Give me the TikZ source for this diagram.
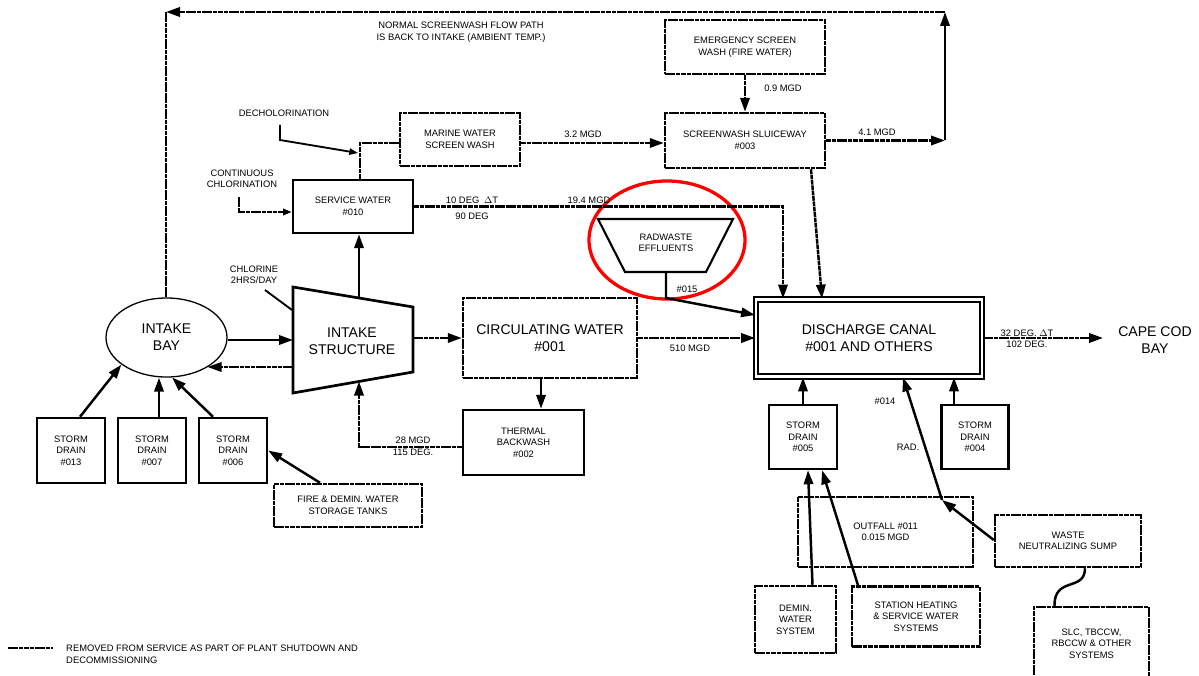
\documentclass[tikz,border=0pt]{standalone}
\usepackage{fontspec}
\setmainfont{Liberation Sans}
\usetikzlibrary{arrows.meta,calc,shapes.geometric}
\begin{document}
\begin{tikzpicture}[x=0.03cm,y=-0.03cm,
  sm/.style={font=\fontsize{8}{9.8}\selectfont, align=center, inner sep=0pt},
  lg/.style={font=\fontsize{12}{14.5}\selectfont, align=center, inner sep=0pt},
  ln/.style={line width=2.1pt},
  thin/.style={line width=1.6pt},
  rm/.style={line width=2.1pt, dash pattern=on 4pt off 0.6pt},
  arr/.style={-{Triangle[length=4.2mm,width=2.8mm]}},
  sarr/.style={-{Triangle[length=2.6mm,width=1.9mm]}},
  box/.style={draw, rectangle, line width=2.1pt, sm},
  rbox/.style={box, dash pattern=on 4pt off 0.6pt},
]
\useasboundingbox (0,0) rectangle (1199,676);
\clip (0,0) rectangle (1199,676);

% ---------- boxes ----------
\node[rbox, minimum width=4.8cm, minimum height=1.62cm] (emerg) at (745,47) {EMERGENCY SCREEN\\WASH (FIRE WATER)};
\node[rbox, minimum width=4.8cm, minimum height=1.65cm] (sluice) at (745,140.5) {SCREENWASH SLUICEWAY\\\#003};
\node[rbox, minimum width=3.6cm, minimum height=1.59cm] (marine) at (460,139.5) {MARINE WATER\\SCREEN WASH};
\node[box, minimum width=3.6cm, minimum height=1.59cm] (sw) at (353,206.5) {SERVICE WATER\\\#010};
\node[rbox, lg, minimum width=5.22cm, minimum height=2.4cm] (circ) at (550,338) {CIRCULATING WATER\\\#001};
\node[box, minimum width=3.63cm, minimum height=1.95cm] (thermal) at (523.5,442.5) {THERMAL\\BACKWASH\\\#002};
\node[box, minimum width=2.04cm, minimum height=1.95cm] (sd013) at (71,450.5) {STORM\\DRAIN\\\#013};
\node[box, minimum width=2.04cm, minimum height=1.95cm] (sd007) at (152,450.5) {STORM\\DRAIN\\\#007};
\node[box, minimum width=2.04cm, minimum height=1.95cm] (sd006) at (233,450.5) {STORM\\DRAIN\\\#006};
\node[rbox, minimum width=4.44cm, minimum height=1.29cm] (fire) at (348,505.5) {FIRE \& DEMIN. WATER\\STORAGE TANKS};
\node[draw, double, double distance=2.2pt, line width=1.5pt, lg, minimum width=6.78cm, minimum height=2.31cm] (dc) at (869,338) {DISCHARGE CANAL\\\#001 AND OTHERS};
\node[box, minimum width=2.04cm, minimum height=1.92cm] (sd005) at (803,437) {STORM\\DRAIN\\\#005};
\node[box, minimum width=2.01cm, minimum height=1.92cm] (sd004) at (975,437) {STORM\\DRAIN\\\#004};
\node[rbox, minimum width=5.25cm, minimum height=2.1cm] (outfall) at (885.5,532) {OUTFALL \#011\\0.015 MGD};
\node[rbox, minimum width=4.38cm, minimum height=1.56cm] (sump) at (1068,541) {WASTE\\NEUTRALIZING SUMP};
\node[rbox, minimum width=3.45cm, minimum height=2.19cm] (slc) at (1091.5,643.5) {SLC, TBCCW,\\RBCCW \& OTHER\\SYSTEMS};
\node[rbox, minimum width=2.43cm, minimum height=2.01cm] (demin) at (795.5,619.5) {DEMIN.\\WATER\\SYSTEM};
\node[rbox, minimum width=3.84cm, minimum height=1.8cm] (station) at (916,616.5) {STATION HEATING\\\& SERVICE WATER\\SYSTEMS};

% intake bay
\node[draw, ellipse, line width=1.1pt, lg, minimum width=3.63cm, minimum height=2.37cm, inner sep=0pt] (bay) at (166.5,337.5) {INTAKE\\BAY};

% intake structure (trapezoid)
\draw[line width=2.3pt, line join=miter] (293,287) -- (413,307) -- (413,372) -- (293,393) -- cycle;
\node[lg] (is) at (352,341) {INTAKE\\STRUCTURE};
\coordinate (isT) at (359,298);
\coordinate (isB) at (359,381.5);
\coordinate (isL1) at (293,340);
\coordinate (isL2) at (293,367);
\coordinate (isR) at (413,338);
\coordinate (isC) at (292,310);

% radwaste (trapezoid)
\draw[line width=1.8pt, line join=miter] (598,219) -- (733,219) -- (706,272) -- (625,272) -- cycle;
\node[sm] (rw) at (666,243) {RADWASTE\\EFFLUENTS};
\coordinate (rwB) at (666,272);
\draw[red, line width=2.8pt] (667,240) ellipse [x radius=2.34cm, y radius=1.77cm];

\node[lg] (ccb) at (1155,340) {CAPE COD\\BAY};

% ---------- labels ----------
\node[sm] (normal) at (461,32) {NORMAL SCREENWASH FLOW PATH\\IS BACK TO INTAKE (AMBIENT TEMP.)};
\node[sm] (dechl) at (284,113) {DECHOLORINATION};
\node[sm] (contchl) at (242,179) {CONTINUOUS\\CHLORINATION};
\node[sm] (chlor) at (254,275) {CHLORINE\\2HRS/DAY};
\node[sm] (l10) at (472,200) {10 DEG\enspace$\Delta$T};
\node[sm] (l90) at (472,216) {90 DEG};
\node[sm] (l194) at (589,200) {19.4 MGD};
\node[sm] (l32) at (583,134) {3.2 MGD};
\node[sm] (l09) at (783,88) {0.9 MGD};
\node[sm] (l41) at (877,132) {4.1 MGD};
\node[sm] (l015) at (687,289) {\#015};
\node[sm] (l510) at (690,348) {510 MGD};
\node[sm] (l28) at (413,440) {28 MGD};
\node[sm] (l115) at (413,452) {115 DEG.};
\node[sm] (l32d) at (1027,333) {32 DEG. $\Delta$T};
\node[sm] (l102) at (1027,344) {102 DEG.};
\node[sm] (l014) at (885,401) {\#014};
\node[sm] (lrad) at (908,447) {RAD.};

% ---------- top loop ----------
\coordinate (sj) at (945,140.5);
\coordinate (tr) at (945,12);
\coordinate (tl) at (166,12);
\draw[rm,arr] (sluice.east) -- (sluice.east -| sj);
\draw[ln,arr] (sj) -- (tr);
\draw[rm,arr] (tr) -- (tl);
\draw[rm] (tl) -- (tl |- bay.north);

% ---------- upper connectors ----------
\draw[rm,arr] (emerg.south) -- (sluice.north);
\coordinate (mE) at ($(marine.east)+(0,3.5)$);
\draw[rm,arr] (mE) -- (mE -| sluice.west);
\coordinate (swm) at (360,143);
\draw[rm] (swm |- sw.north) -- (swm) -- (swm -| marine.west);
\coordinate (dch1) at (280,125);
\coordinate (dchE) at (358,153);
\draw[thin,sarr] (dch1) -- ++(0,15) -- (dchE);
\coordinate (cc1) at (239,197);
\draw[rm,sarr] (cc1) |- ($(sw.west)+(0,5.5)$);
\coordinate (clE) at (265,290);
\draw[thin] (clE) -- (isC);

% ---------- intake area ----------
\draw[ln,arr] (isL1 -| bay.east) -- (isL1);
\draw[rm,arr] (isL2) -- (isL2 -| bay.-36);
\draw[ln,arr] (isT) -- (isT |- sw.south);
\draw[rm,arr] (isR) -- (isR -| circ.west);
\coordinate (ct) at ($(circ.south)+(-9,0)$);
\draw[ln,arr] (ct) -- (ct |- thermal.north);
\coordinate (tw) at ($(thermal.west)+(0,4.5)$);
\draw[rm,arr] (tw) -- (tw -| isB) -- (isB);

% storm drains to intake bay
\draw[ln,arr] ($(sd013.north)+(9,0)$) -- (bay.211);
\coordinate (s7) at ($(sd007.north)+(7,0)$);
\draw[ln,arr] (s7) -- (s7 |- bay.south);
\draw[ln,arr] ($(sd006.north)+(-20,0)$) -- (bay.-82);
\draw[ln,arr] ($(fire.north)+(-28,0)$) -- (sd006.east);

% ---------- into discharge canal ----------
\draw[rm,arr] (sw.east) -| ($(dc.north)+(-86,0)$);
\draw[rm,arr] ($(sluice.south)+(66,0)$) -- ($(dc.north)+(-47,0)$);
\draw[ln,arr] (rwB) -- ++(0,26) -- ($(dc.west)+(0,-23)$);
\draw[rm,arr] (circ.east) -- (circ.east -| dc.west);
\draw[ln,arr] (sd005.north) -- (sd005.north |- dc.south);
\coordinate (s4) at ($(sd004.north)+(-21,0)$);
\draw[ln,arr] (s4) -- (s4 |- dc.south);
\coordinate (rj) at (942,500);
\draw[ln,arr] ($(sump.west)+(0,-1)$) -- (rj);
\draw[ln,arr] (rj) -- ($(dc.south)+(34,0)$);
\draw[ln,arr] ($(demin.north)+(17,0)$) -- ($(sd005.south)+(5,0)$);
\draw[ln,arr] ($(station.north)+(-58,0)$) -- ($(sd005.south)+(19,0)$);
\draw[ln] ($(sump.south)+(17,0)$) .. controls (1085,592) and (1054,576) .. ($(slc.north)+(-37,0)$);

% discharge to bay
\coordinate (cce) at ($(ccb.west)+(-15,-1)$);
\draw[rm,arr] (dc.east) -- (dc.east -| cce);

% ---------- legend ----------
\coordinate (lg1) at (8,648);
\coordinate (lg2) at (53,648);
\draw[rm] (lg1) -- (lg2);
\node[sm, anchor=west, align=left] (legt) at (66,654.5) {REMOVED FROM SERVICE AS PART OF PLANT SHUTDOWN AND\\DECOMMISSIONING};
\end{tikzpicture}
\end{document}
